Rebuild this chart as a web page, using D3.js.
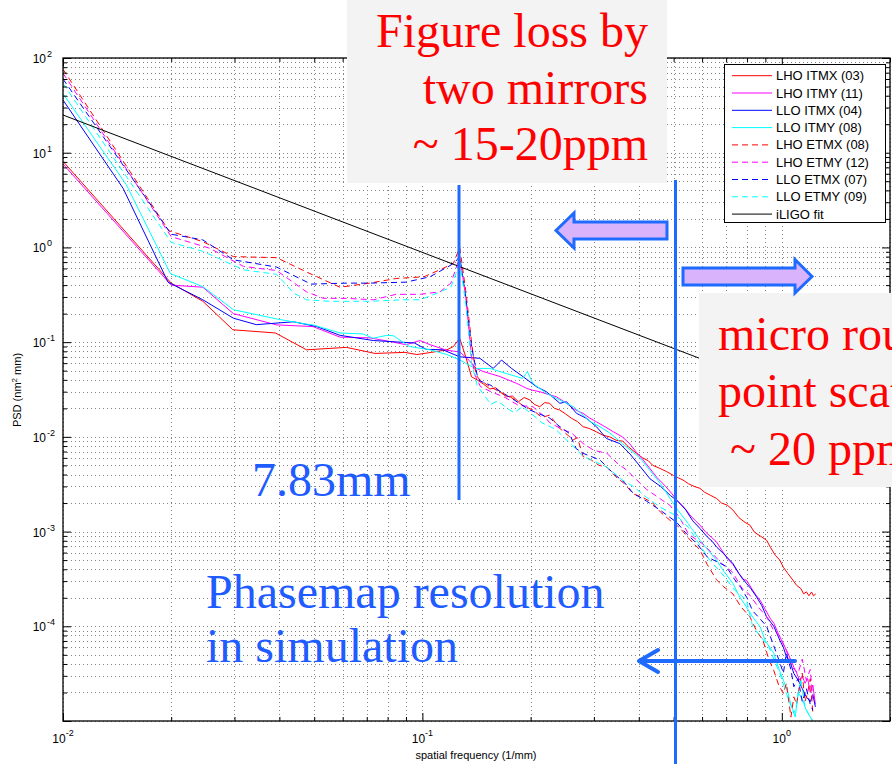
<!DOCTYPE html>
<html>
<head>
<meta charset="utf-8">
<script src="https://cdn.jsdelivr.net/npm/d3@7/dist/d3.min.js"></script>
<style>
  body { margin: 0; background: #fff; }
  svg { display: block; }
</style>
</head>
<body>
<svg id="chart" width="892" height="764"></svg>
<script>
// ---- Measured PSD curves: [spatial frequency (1/mm), PSD (nm^2 mm)] ----
const lhoItmx = [[0.01,8.1],[0.02,0.42],[0.0245,0.27],[0.0297,0.135],[0.039,0.125],[0.0476,0.083],[0.0615,0.088],[0.0738,0.076],[0.0894,0.078],[0.0965,0.074],[0.106,0.078],[0.117,0.083],[0.122,0.09],[0.127,0.11],[0.132,0.07],[0.137,0.043],[0.142,0.040],[0.148,0.036],[0.154,0.032],[0.160,0.033],[0.166,0.029],[0.1715,0.0265],[0.178,0.027],[0.185,0.0235],[0.192,0.026],[0.199,0.0245],[0.205,0.022],[0.212,0.0208],[0.219,0.023],[0.226,0.0226],[0.233,0.020],[0.241,0.0192],[0.25,0.0175],[0.26,0.0157],[0.27,0.0145],[0.28,0.0128],[0.292,0.0122],[0.305,0.0113],[0.318,0.0104],[0.332,0.0100],[0.346,0.0092],[0.361,0.0090],[0.375,0.0078],[0.394,0.0067],[0.41,0.0060],[0.425,0.0056],[0.4375,0.0050],[0.455,0.0047],[0.478,0.0043],[0.50,0.0039],[0.515,0.0037],[0.531,0.0035],[0.55,0.0032],[0.57,0.0030],[0.592,0.00286],[0.61,0.0026],[0.635,0.0024],[0.658,0.00224],[0.68,0.0020],[0.705,0.0019],[0.731,0.00169],[0.76,0.0014],[0.79,0.00125],[0.815,0.00117],[0.84,0.00098],[0.87,0.0009],[0.907,0.00081],[0.93,0.00068],[0.96,0.00056],[0.987,0.0005],[1.01,0.00042],[1.04,0.00036],[1.073,0.000308],[1.10,0.00027],[1.13,0.00025],[1.15,0.00022],[1.171,0.000231],[1.19,0.00021],[1.21,0.00023],[1.225,0.00021],[1.243,0.000219]];

const lhoItmy = [[0.01,7.6],[0.02,0.40],[0.0245,0.38],[0.0298,0.20],[0.0393,0.152],[0.0496,0.146],[0.059,0.113],[0.0714,0.111],[0.083,0.10],[0.09,0.094],[0.0986,0.104],[0.105,0.094],[0.117,0.082],[0.127,0.079],[0.135,0.064],[0.141,0.053],[0.1476,0.049],[0.156,0.046],[0.1645,0.0433],[0.173,0.040],[0.183,0.0367],[0.195,0.0325],[0.203,0.031],[0.212,0.030],[0.224,0.028],[0.236,0.0265],[0.25,0.023],[0.263,0.020],[0.272,0.0185],[0.28,0.0177],[0.292,0.0158],[0.305,0.0144],[0.322,0.0128],[0.34,0.0113],[0.36,0.0100],[0.378,0.0084],[0.395,0.0068],[0.41,0.0058],[0.43,0.0046],[0.45,0.0037],[0.475,0.0030],[0.495,0.0025],[0.513,0.0021],[0.535,0.0018],[0.555,0.0015],[0.575,0.0013],[0.592,0.00117],[0.615,0.00098],[0.637,0.00087],[0.658,0.00078],[0.68,0.00064],[0.705,0.00052],[0.731,0.00045],[0.76,0.00036],[0.78,0.00031],[0.797,0.000308],[0.83,0.00024],[0.85,0.00021],[0.87,0.000189],[0.90,0.00015],[0.93,0.00012],[0.95,0.000108],[0.98,0.000082],[1.01,0.000065],[1.04,0.000052],[1.08,0.000037],[1.10,0.000032],[1.12,0.000027],[1.14,0.00003],[1.16,0.000025],[1.18,0.000028],[1.2,0.00002],[1.22,0.000024],[1.24,0.000015]];

const lloItmx = [[0.01,36],[0.0147,4.2],[0.0196,0.43],[0.0245,0.28],[0.0298,0.179],[0.0345,0.153],[0.0438,0.164],[0.0508,0.146],[0.059,0.118],[0.073,0.104],[0.0866,0.10],[0.095,0.098],[0.1025,0.084],[0.114,0.083],[0.127,0.070],[0.1445,0.0675],[0.1574,0.0528],[0.166,0.0647],[0.177,0.0528],[0.1907,0.0431],[0.2078,0.0338],[0.2215,0.0299],[0.2413,0.0226],[0.2518,0.0235],[0.2685,0.0177],[0.286,0.0157],[0.305,0.0128],[0.3254,0.0096],[0.354,0.0085],[0.378,0.0066],[0.403,0.0049],[0.43,0.0036],[0.46,0.0030],[0.49,0.0024],[0.513,0.0021],[0.54,0.0017],[0.565,0.0013],[0.5915,0.00108],[0.62,0.00088],[0.64,0.00079],[0.658,0.00069],[0.69,0.00058],[0.731,0.00046],[0.76,0.00036],[0.797,0.000284],[0.82,0.00025],[0.85,0.000205],[0.88,0.000165],[0.907,0.000126],[0.95,0.0001],[0.987,0.0000714],[1.01,0.00006],[1.03,0.0000476],[1.055,0.000042],[1.08,0.0000318],[1.11,0.000027],[1.14,0.000022],[1.17,0.000018],[1.2,0.000016],[1.22,0.000019],[1.24,0.0000141]];

const lloItmy = [[0.01,42],[0.015,4.6],[0.0199,0.53],[0.0245,0.385],[0.0298,0.22],[0.0395,0.175],[0.0476,0.155],[0.0496,0.152],[0.059,0.125],[0.0683,0.122],[0.073,0.11],[0.0795,0.118],[0.083,0.117],[0.092,0.09],[0.105,0.083],[0.117,0.074],[0.127,0.065],[0.14,0.0528],[0.154,0.0528],[0.171,0.0467],[0.19,0.0414],[0.196,0.0487],[0.203,0.0367],[0.2215,0.0288],[0.241,0.0245],[0.263,0.0208],[0.28,0.017],[0.294,0.0144],[0.312,0.0128],[0.332,0.011],[0.36,0.0085],[0.403,0.0060],[0.43,0.0044],[0.46,0.0032],[0.49,0.0022],[0.513,0.0017],[0.55,0.0012],[0.592,0.00081],[0.625,0.00063],[0.658,0.0005],[0.69,0.00038],[0.731,0.000284],[0.76,0.00021],[0.797,0.00016],[0.83,0.000125],[0.87,0.0000989],[0.90,0.00007],[0.95,0.000052],[0.98,0.000036],[1.01,0.000027],[1.04,0.00002],[1.06,0.000015],[1.09,0.000011],[1.11,0.00002],[1.14,0.000017],[1.17,0.000013],[1.2,0.000011],[1.22,0.00001]];

const lhoEtmx = [[0.01,76],[0.0197,1.5],[0.0245,1.15],[0.0298,0.80],[0.0393,0.78],[0.0476,0.55],[0.059,0.38],[0.0714,0.42],[0.0845,0.47],[0.101,0.49],[0.114,0.60],[0.122,0.68],[0.127,1.0],[0.132,0.35],[0.137,0.10],[0.141,0.045],[0.1445,0.040],[0.152,0.035],[0.161,0.031],[0.17,0.028],[0.18,0.025],[0.19,0.0215],[0.203,0.0192],[0.215,0.016],[0.226,0.017],[0.24,0.0125],[0.2627,0.0093],[0.27,0.0098],[0.28,0.0062],[0.295,0.0057],[0.31,0.0050],[0.326,0.0048],[0.345,0.0038],[0.365,0.0032],[0.386,0.0025],[0.41,0.0023],[0.4375,0.0020],[0.46,0.0016],[0.488,0.00132],[0.52,0.0011],[0.55,0.00085],[0.592,0.00064],[0.62,0.00045],[0.658,0.00031],[0.69,0.00026],[0.731,0.00022],[0.77,0.00016],[0.815,0.000126],[0.85,0.00009],[0.886,0.000071],[0.92,0.000045],[0.95,0.000034],[0.98,0.000024],[1.01,0.0000195],[1.03,0.000025],[1.06,0.000011],[1.08,0.000018],[1.10,0.000015],[1.12,0.000024],[1.14,0.000032],[1.16,0.000016],[1.18,0.00002],[1.2,0.000028],[1.22,0.000012]];

const lhoEtmy = [[0.01,69],[0.02,1.30],[0.0256,0.98],[0.0318,0.63],[0.0393,0.57],[0.0476,0.34],[0.053,0.29],[0.0615,0.29],[0.073,0.28],[0.0845,0.32],[0.0986,0.32],[0.112,0.34],[0.12,0.42],[0.124,0.60],[0.127,0.8],[0.132,0.3],[0.137,0.07],[0.14,0.045],[0.145,0.034],[0.155,0.03],[0.17,0.026],[0.185,0.0215],[0.203,0.0208],[0.22,0.016],[0.226,0.0141],[0.245,0.012],[0.26,0.011],[0.28,0.0085],[0.30,0.0072],[0.326,0.0067],[0.35,0.0052],[0.372,0.0044],[0.386,0.0038],[0.42,0.0028],[0.46,0.0022],[0.488,0.0019],[0.52,0.0014],[0.55,0.00094],[0.6,0.00075],[0.64,0.00059],[0.68,0.00046],[0.731,0.00037],[0.77,0.00026],[0.815,0.000213],[0.86,0.00016],[0.907,0.000126],[0.95,0.00009],[0.987,0.000079],[1.03,0.000055],[1.07,0.000037],[1.11,0.000032],[1.14,0.000045],[1.17,0.000027],[1.2,0.000035],[1.22,0.000017]];

const lloEtmx = [[0.01,60],[0.02,1.38],[0.0245,1.2],[0.0298,0.74],[0.0393,0.62],[0.049,0.41],[0.0615,0.42],[0.0714,0.42],[0.09,0.43],[0.105,0.49],[0.12,0.65],[0.124,0.72],[0.127,0.8],[0.132,0.3],[0.137,0.09],[0.142,0.045],[0.1445,0.039],[0.155,0.035],[0.165,0.030],[0.18,0.0245],[0.199,0.0192],[0.226,0.0158],[0.24,0.013],[0.256,0.0109],[0.268,0.0075],[0.28,0.0067],[0.312,0.0057],[0.34,0.0041],[0.365,0.0033],[0.386,0.00253],[0.42,0.0021],[0.46,0.00167],[0.51,0.00125],[0.544,0.00094],[0.58,0.00075],[0.62,0.00054],[0.66,0.00048],[0.70,0.00043],[0.74,0.00031],[0.77,0.000255],[0.80,0.0002],[0.83,0.000145],[0.87,0.00012],[0.907,0.0001],[0.95,0.000062],[0.98,0.000045],[1.01,0.000032],[1.03,0.000052],[1.06,0.000035],[1.08,0.000023],[1.11,0.000028],[1.14,0.000016],[1.17,0.000022],[1.2,0.000015],[1.22,0.000013]];

const lloEtmy = [[0.01,54],[0.02,1.13],[0.0245,0.91],[0.0318,0.58],[0.0393,0.52],[0.0438,0.33],[0.0476,0.28],[0.0553,0.27],[0.063,0.27],[0.0714,0.27],[0.088,0.28],[0.0986,0.28],[0.11,0.33],[0.12,0.38],[0.124,0.53],[0.127,0.74],[0.132,0.25],[0.137,0.06],[0.142,0.035],[0.147,0.029],[0.155,0.022],[0.162,0.024],[0.172,0.02],[0.18,0.018],[0.19,0.0208],[0.203,0.017],[0.215,0.0141],[0.235,0.012],[0.25,0.0095],[0.27,0.0072],[0.28,0.0062],[0.295,0.0057],[0.326,0.0048],[0.36,0.0035],[0.386,0.0030],[0.42,0.0023],[0.46,0.0018],[0.513,0.00144],[0.55,0.0011],[0.58,0.00081],[0.63,0.0005],[0.69,0.00034],[0.74,0.00024],[0.797,0.00019],[0.83,0.000099],[0.88,0.000075],[0.92,0.000061],[0.95,0.000045],[0.987,0.000032],[1.03,0.0000195],[1.08,0.000012],[1.10,0.000015],[1.13,0.000028],[1.16,0.000014],[1.2,0.000011],[1.22,0.00001]];

// Initial LIGO power-law fit (straight line in log-log), end points
const iligoFit = [[0.01,25],[2,0.0115]];

const seriesNames = ["LHO ITMX (03)","LHO ITMY (11)","LLO ITMX (04)","LLO ITMY (08)",
                     "LHO ETMX (08)","LHO ETMY (12)","LLO ETMX (07)","LLO ETMY (09)","iLIGO fit"];
const seriesData = [lhoItmx, lhoItmy, lloItmx, lloItmy, lhoEtmx, lhoEtmy, lloEtmx, lloEtmy, iligoFit];

// ---- Axis ticks and labels ----
const xMajorTicks = [0.01, 0.1, 1];
const xTickExponents = ["-2", "-1", "0"];
const yMajorTicks = [1e-5, 1e-4, 1e-3, 1e-2, 1e-1, 1, 10, 100];
const yLabelTicks = [1e-4, 1e-3, 1e-2, 1e-1, 1, 10, 100];
const yTickExponents = ["-4", "-3", "-2", "-1", "0", "1", "2"];

// ---- Styles ----
const seriesColors = ["#ff0000","#ff00ff","#0000ff","#00ffff","#ff0000","#ff00ff","#0000ff","#00ffff","#000000"];
const seriesDash = [null,null,null,null,"6,4","6,4","6,4","6,4",null];
const annotBlue = "#1f6bff";
const textBlue = "#1f5cff";
const sans = "'Liberation Sans', Arial, Helvetica, sans-serif";
const serif = "'Liberation Serif', 'Times New Roman', serif";

const svg = d3.select("#chart");
const plot = { left: 63, right: 890, top: 58, bottom: 721 };

const x = d3.scaleLog().domain([0.01, 2]).range([plot.left, plot.right]);
const y = d3.scaleLog().domain([1e-5, 100]).range([plot.bottom, plot.top]);

const xAll = x.ticks();
const yAll = y.ticks();

svg.append("defs").append("clipPath").attr("id", "plotClip")
  .append("rect")
  .attr("x", plot.left).attr("y", plot.top)
  .attr("width", plot.right - plot.left).attr("height", plot.bottom - plot.top);

// dotted grid at every major and minor tick
const grid = svg.append("g").attr("stroke", "#333").attr("stroke-width", 1)
  .attr("stroke-dasharray", "1,3").attr("opacity", 0.6);
grid.selectAll("line.gx").data(xAll).join("line").attr("class", "gx")
  .attr("x1", d => Math.round(x(d)) + 0.5).attr("x2", d => Math.round(x(d)) + 0.5)
  .attr("y1", plot.top).attr("y2", plot.bottom);
grid.selectAll("line.gy").data(yAll).join("line").attr("class", "gy")
  .attr("y1", d => Math.round(y(d)) + 0.5).attr("y2", d => Math.round(y(d)) + 0.5)
  .attr("x1", plot.left).attr("x2", plot.right);

// data curves
const line = d3.line().x(d => x(d[0])).y(d => y(d[1]));
const curves = svg.append("g").attr("clip-path", "url(#plotClip)");
seriesData.forEach((data, i) => {
  curves.append("path")
    .attr("d", line(data))
    .attr("fill", "none")
    .attr("stroke", seriesColors[i])
    .attr("stroke-width", 1)
    .attr("stroke-dasharray", seriesDash[i]);
});

// axes: ticks pointing inward on all four sides
const isMajor = v => xMajorTicks.some(t => Math.abs(Math.log10(v) - Math.log10(t)) < 1e-9);
const isMajorY = v => yMajorTicks.some(t => Math.abs(Math.log10(v) - Math.log10(t)) < 1e-9);
const xMinor = xAll.filter(v => !isMajor(v));
const yMinor = yAll.filter(v => !isMajorY(v));

function styleAxis(g) {
  g.select(".domain").remove();
  g.selectAll("line").attr("stroke", "#000");
}
svg.append("g").attr("transform", `translate(0,${plot.bottom})`)
  .call(d3.axisBottom(x).tickValues(xMajorTicks).tickSize(-8).tickFormat("")).call(styleAxis);
svg.append("g").attr("transform", `translate(0,${plot.bottom})`)
  .call(d3.axisBottom(x).tickValues(xMinor).tickSize(-4).tickFormat("")).call(styleAxis);
svg.append("g").attr("transform", `translate(0,${plot.top})`)
  .call(d3.axisTop(x).tickValues(xMajorTicks).tickSize(-8).tickFormat("")).call(styleAxis);
svg.append("g").attr("transform", `translate(0,${plot.top})`)
  .call(d3.axisTop(x).tickValues(xMinor).tickSize(-4).tickFormat("")).call(styleAxis);
svg.append("g").attr("transform", `translate(${plot.left},0)`)
  .call(d3.axisLeft(y).tickValues(yMajorTicks).tickSize(-8).tickFormat("")).call(styleAxis);
svg.append("g").attr("transform", `translate(${plot.left},0)`)
  .call(d3.axisLeft(y).tickValues(yMinor).tickSize(-4).tickFormat("")).call(styleAxis);
svg.append("g").attr("transform", `translate(${plot.right},0)`)
  .call(d3.axisRight(y).tickValues(yMajorTicks).tickSize(-8).tickFormat("")).call(styleAxis);
svg.append("g").attr("transform", `translate(${plot.right},0)`)
  .call(d3.axisRight(y).tickValues(yMinor).tickSize(-4).tickFormat("")).call(styleAxis);

svg.append("rect")
  .attr("x", plot.left).attr("y", plot.top)
  .attr("width", plot.right - plot.left).attr("height", plot.bottom - plot.top)
  .attr("fill", "none").attr("stroke", "#000").attr("stroke-width", 1.3);

// tick labels as 10 with superscript exponent
const xLab = svg.append("g").attr("font-family", sans).attr("font-size", 12).attr("fill", "#000");
xMajorTicks.forEach((t, i) => {
  const tx = xLab.append("text").attr("x", x(t)).attr("y", 743).attr("text-anchor", "middle");
  tx.append("tspan").text("10");
  tx.append("tspan").attr("font-size", 9).attr("dy", -7).text(xTickExponents[i]);
});
const yLab = svg.append("g").attr("font-family", sans).attr("font-size", 12).attr("fill", "#000");
yLabelTicks.forEach((t, i) => {
  yLab.append("text").attr("x", 46).attr("y", y(t) + 5).attr("text-anchor", "end").text("10");
  yLab.append("text").attr("x", 47).attr("y", y(t) - 1).attr("font-size", 9)
    .text(yTickExponents[i]);
});

// axis titles
svg.append("text").attr("x", 476).attr("y", 759).attr("text-anchor", "middle")
  .attr("font-family", sans).attr("font-size", 11).text("spatial frequency (1/mm)");
const yt = svg.append("text").attr("transform", "translate(21,390) rotate(-90)")
  .attr("text-anchor", "middle").attr("font-family", sans).attr("font-size", 11);
yt.append("tspan").text("PSD (nm");
yt.append("tspan").attr("font-size", 8).attr("dy", -4).text("2");
yt.append("tspan").attr("dy", 4).text(" mm)");

// legend
const legend = svg.append("g");
legend.append("rect").attr("x", 724.5).attr("y", 64.5).attr("width", 161).attr("height", 158)
  .attr("fill", "#fff").attr("stroke", "#000").attr("stroke-width", 1);
seriesNames.forEach((name, i) => {
  const ly = 75.7 + i * 17.3;
  legend.append("line").attr("x1", 732).attr("x2", 772).attr("y1", ly).attr("y2", ly)
    .attr("stroke", seriesColors[i]).attr("stroke-width", 1)
    .attr("stroke-dasharray", seriesDash[i]);
  legend.append("text").attr("x", 776).attr("y", ly + 4.5)
    .attr("font-family", sans).attr("font-size", 13).text(name);
});

// ---- annotations ----
// upper callout box
svg.append("rect").attr("x", 347).attr("y", 0).attr("width", 320).attr("height", 183).attr("fill", "#f3f3f3");
const topText = svg.append("g").attr("font-family", serif).attr("font-size", 48)
  .attr("fill", "#ff0000").attr("text-anchor", "end");
["Figure loss by", "two mirrors", "~ 15-20ppm"].forEach((s, i) => {
  topText.append("text").attr("x", 648).attr("y", 47 + i * 56.5).text(s);
});

// right callout box (runs past the right edge of the page)
svg.append("rect").attr("x", 699).attr("y", 293).attr("width", 200).attr("height", 194).attr("fill", "#f3f3f3");
const rightText = svg.append("g").attr("font-family", serif).attr("font-size", 48).attr("fill", "#ff0000");
rightText.append("text").attr("x", 718).attr("y", 350).text("micro roughness,");
rightText.append("text").attr("x", 718).attr("y", 407).text("point scattering");
rightText.append("text").attr("x", 730).attr("y", 465).text("~ 20 ppm");

// vertical markers
svg.append("line").attr("x1", 459).attr("x2", 459).attr("y1", 185).attr("y2", 500)
  .attr("stroke", annotBlue).attr("stroke-width", 3);
svg.append("line").attr("x1", 675.5).attr("x2", 675.5).attr("y1", 180).attr("y2", 764)
  .attr("stroke", annotBlue).attr("stroke-width", 3);

// block arrows
svg.append("path")
  .attr("d", "M667,222 L574,222 L574,213 L556,230.5 L574,248 L574,239 L667,239 Z")
  .attr("fill", "#d9b3fb").attr("stroke", annotBlue).attr("stroke-width", 3).attr("stroke-linejoin", "miter");
svg.append("path")
  .attr("d", "M683,268 L795,268 L795,259.5 L812,276.5 L795,293 L795,285 L683,285 Z")
  .attr("fill", "#d9b3fb").attr("stroke", annotBlue).attr("stroke-width", 3).attr("stroke-linejoin", "miter");

// resolution arrow
svg.append("path").attr("d", "M795,661 L639,661 M658,650 L639,661 L658,672")
  .attr("fill", "none").attr("stroke", annotBlue).attr("stroke-width", 4)
  .attr("stroke-linecap", "round").attr("stroke-linejoin", "round");

// blue labels
const blueText = svg.append("g").attr("font-family", serif).attr("font-size", 48).attr("fill", textBlue);
blueText.append("text").attr("x", 252).attr("y", 496).text("7.83mm");
blueText.append("text").attr("x", 206).attr("y", 608).text("Phasemap resolution");
blueText.append("text").attr("x", 206).attr("y", 662).text("in simulation");
</script>
</body>
</html>
